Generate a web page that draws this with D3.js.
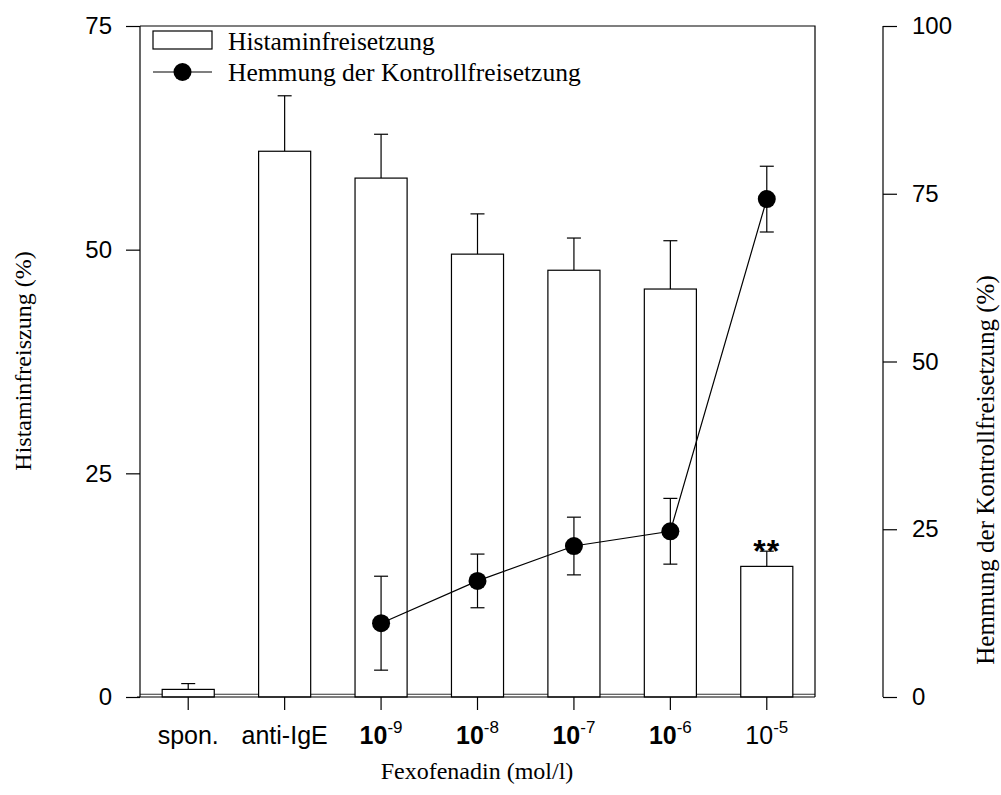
<!DOCTYPE html>
<html>
<head>
<meta charset="utf-8">
<script src="https://cdn.jsdelivr.net/npm/d3@7"></script>
<style>
  html, body { margin: 0; padding: 0; background: #fff; }
  svg { display: block; }
  .tick text { font-family: Arial, "Liberation Sans", sans-serif; }
</style>
</head>
<body>
<svg id="chart" width="1001" height="795"></svg>
<script>
// Categories along the x axis
const categories = ["spon.", "anti-IgE", "1e-9", "1e-8", "1e-7", "1e-6", "1e-5"];
// Tick label parts: base text, superscript, whether the base is bold
const tickBase = ["spon.", "anti-IgE", "10", "10", "10", "10", "10"];
const tickSup  = ["", "", "-9", "-8", "-7", "-6", "-5"];
const tickBold = [false, false, true, true, true, true, false];

// Histamine release (%) – bars, with upper SEM
const releaseValues = [0.85, 61.0, 58.0, 49.5, 47.7, 45.6, 14.6];
const releaseErrors = [0.65, 6.2, 4.9, 4.5, 3.6, 5.4, 1.7];

// Inhibition of control release (%) – line, from 1e-9 onwards
const inhibitionCategories = ["1e-9", "1e-8", "1e-7", "1e-6", "1e-5"];
const inhibitionValues = [11.0, 17.3, 22.5, 24.7, 74.2];
const inhibitionErrors = [7.0, 4.0, 4.3, 4.9, 4.9];

const leftTicks = [0, 25, 50, 75];
const rightTicks = [0, 25, 50, 75, 100];

const svg = d3.select("#chart");
const plot = { left: 140, right: 815, top: 26, bottom: 697 };
const rightAxisX = 883;

const x = d3.scaleBand().domain(categories).range([plot.left, plot.right]).paddingInner(0.46).paddingOuter(0.23);
const yL = d3.scaleLinear().domain([0, 75]).range([plot.bottom, plot.top]);
const yR = d3.scaleLinear().domain([0, 100]).range([plot.bottom, plot.top]);
const cx = c => x(c) + x.bandwidth() / 2;

// inner baseline just above the axis
svg.append("line")
  .attr("x1", plot.left).attr("x2", plot.right)
  .attr("y1", yL(0.3)).attr("y2", yL(0.3))
  .attr("stroke", "#333").attr("stroke-width", 1.1);

// frame: top and right edges
svg.append("path")
  .attr("d", `M${plot.left},${plot.top}H${plot.right}V${plot.bottom}`)
  .attr("fill", "none").attr("stroke", "#000").attr("stroke-width", 1.2);

// bar error whiskers (upper only)
const capW = 7;
const barErr = svg.append("g").attr("stroke", "#000").attr("stroke-width", 1.2);
categories.forEach((c, i) => {
  const top = yL(releaseValues[i] + releaseErrors[i]);
  barErr.append("line").attr("x1", cx(c)).attr("x2", cx(c))
    .attr("y1", yL(releaseValues[i])).attr("y2", top);
  barErr.append("line").attr("x1", cx(c) - capW).attr("x2", cx(c) + capW)
    .attr("y1", top).attr("y2", top);
});

// bars
svg.append("g").selectAll("rect").data(categories).join("rect")
  .attr("x", c => x(c))
  .attr("width", x.bandwidth())
  .attr("y", (c, i) => yL(releaseValues[i]))
  .attr("height", (c, i) => yL(0) - yL(releaseValues[i]))
  .attr("fill", "#fff").attr("stroke", "#000").attr("stroke-width", 1.2);

// significance marker
svg.append("text")
  .attr("x", cx("1e-5")).attr("y", yL(releaseValues[6] + releaseErrors[6]) + 11)
  .attr("text-anchor", "middle")
  .attr("font-family", "Arial, 'Liberation Sans', sans-serif")
  .attr("font-weight", "bold").attr("font-size", 32)
  .attr("letter-spacing", 1)
  .text("**");

// inhibition error bars (both directions)
const lineErr = svg.append("g").attr("stroke", "#000").attr("stroke-width", 1.2);
inhibitionCategories.forEach((c, i) => {
  const lo = yR(inhibitionValues[i] - inhibitionErrors[i]);
  const hi = yR(inhibitionValues[i] + inhibitionErrors[i]);
  lineErr.append("line").attr("x1", cx(c)).attr("x2", cx(c)).attr("y1", lo).attr("y2", hi);
  [lo, hi].forEach(yy => lineErr.append("line")
    .attr("x1", cx(c) - capW).attr("x2", cx(c) + capW).attr("y1", yy).attr("y2", yy));
});

// inhibition line and markers
svg.append("path")
  .datum(inhibitionCategories)
  .attr("d", d3.line().x(c => cx(c)).y((c, i) => yR(inhibitionValues[i])))
  .attr("fill", "none").attr("stroke", "#000").attr("stroke-width", 1.2);
svg.append("g").selectAll("circle").data(inhibitionCategories).join("circle")
  .attr("cx", c => cx(c)).attr("cy", (c, i) => yR(inhibitionValues[i]))
  .attr("r", 9).attr("fill", "#000");

// left axis
const gL = svg.append("g").attr("transform", `translate(${plot.left},0)`)
  .call(d3.axisLeft(yL).tickValues(leftTicks).tickSize(14).tickPadding(14));
// right axis
const gR = svg.append("g").attr("transform", `translate(${rightAxisX},0)`)
  .call(d3.axisRight(yR).tickValues(rightTicks).tickSize(14).tickPadding(15));
// bottom axis
const gB = svg.append("g").attr("transform", `translate(0,${plot.bottom})`)
  .call(d3.axisBottom(x).tickSize(13).tickPadding(12).tickFormat(() => ""));

[gL, gR, gB].forEach(g => {
  g.select(".domain").attr("stroke", "#000").attr("stroke-width", 1.2);
  g.selectAll(".tick line").attr("stroke", "#000").attr("stroke-width", 1.2);
  g.selectAll(".tick text").attr("font-size", 24).attr("fill", "#000");
});
gL.select(".domain").attr("d", `M0,${plot.top}V${plot.bottom}`);
gR.select(".domain").attr("d", `M0,${plot.top}V${plot.bottom}`);
gB.select(".domain").attr("d", `M${plot.left - 3},0H${plot.right}`);

// category labels with superscripts
gB.selectAll(".tick").each(function(c) {
  const i = categories.indexOf(c);
  const t = d3.select(this).select("text").attr("dy", null).attr("y", 47).attr("font-size", 25);
  t.append("tspan").attr("font-weight", tickBold[i] ? "bold" : "normal").text(tickBase[i]);
  if (tickSup[i]) {
    t.append("tspan").attr("font-size", 17).attr("dy", -11).text(tickSup[i]);
  }
});

// axis titles
const serif = "'Liberation Serif', 'Times New Roman', serif";
svg.append("text").attr("transform", "translate(31,361) rotate(-90)")
  .attr("text-anchor", "middle").attr("font-family", serif).attr("font-size", 24)
  .text("Histaminfreiszung (%)");
svg.append("text").attr("transform", "translate(994,470) rotate(-90)")
  .attr("text-anchor", "middle").attr("font-family", serif).attr("font-size", 25)
  .text("Hemmung der Kontrollfreisetzung (%)");
svg.append("text").attr("x", 477).attr("y", 779)
  .attr("text-anchor", "middle").attr("font-family", serif).attr("font-size", 24)
  .text("Fexofenadin (mol/l)");

// legend
const lg = svg.append("g");
lg.append("rect").attr("x", 153).attr("y", 31).attr("width", 59).attr("height", 18)
  .attr("fill", "#fff").attr("stroke", "#000").attr("stroke-width", 1.2);
lg.append("text").attr("x", 228).attr("y", 50).attr("font-family", serif).attr("font-size", 25.5)
  .text("Histaminfreisetzung");
lg.append("line").attr("x1", 153).attr("x2", 212).attr("y1", 72).attr("y2", 72)
  .attr("stroke", "#000").attr("stroke-width", 1.2);
lg.append("circle").attr("cx", 182.5).attr("cy", 72).attr("r", 9).attr("fill", "#000");
lg.append("text").attr("x", 228).attr("y", 81).attr("font-family", serif).attr("font-size", 25.5)
  .text("Hemmung der Kontrollfreisetzung");
</script>
</body>
</html>
